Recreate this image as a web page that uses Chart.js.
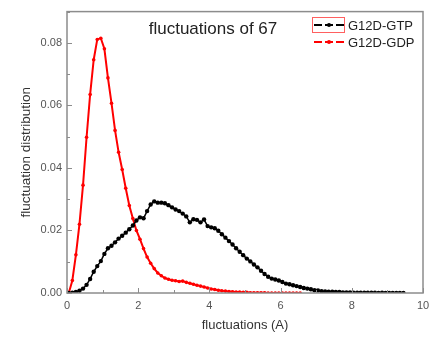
<!DOCTYPE html>
<html lang="en">
<head>
<meta charset="UTF-8">
<title>fluctuations of 67</title>
<script src="https://cdn.jsdelivr.net/npm/chart.js"></script>
<style>
  html, body { margin: 0; padding: 0; background: #fff; }
  #wrap { width: 440px; height: 338px; }
</style>
</head>
<body>
<div id="wrap"><canvas id="chart" width="440" height="338"></canvas></div>
<script>
// bin centres of the fluctuation histograms (A)
const binCenters = [
  0.05, 0.15, 0.25, 0.35, 0.45, 0.55, 0.65, 0.75, 0.85, 0.95,
  1.05, 1.15, 1.25, 1.35, 1.45, 1.55, 1.65, 1.75, 1.85, 1.95,
  2.05, 2.15, 2.25, 2.35, 2.45, 2.55, 2.65, 2.75, 2.85, 2.95,
  3.05, 3.15, 3.25, 3.35, 3.45, 3.55, 3.65, 3.75, 3.85, 3.95,
  4.05, 4.15, 4.25, 4.35, 4.45, 4.55, 4.65, 4.75, 4.85, 4.95,
  5.05, 5.15, 5.25, 5.35, 5.45, 5.55, 5.65, 5.75, 5.85, 5.95,
  6.05, 6.15, 6.25, 6.35, 6.45, 6.55, 6.65, 6.75, 6.85, 6.95,
  7.05, 7.15, 7.25, 7.35, 7.45, 7.55, 7.65, 7.75, 7.85, 7.95,
  8.05, 8.15, 8.25, 8.35, 8.45, 8.55, 8.65, 8.75, 8.85, 8.95,
  9.05, 9.15, 9.25, 9.35, 9.45
];

// G12D-GTP distribution
const gtpValues = [
  0.0000, 0.0001, 0.0003, 0.0007, 0.0014, 0.0026, 0.0045, 0.0068, 0.0086, 0.0102,
  0.0125, 0.0143, 0.0151, 0.0162, 0.0174, 0.0183, 0.0193, 0.0204, 0.0216, 0.0232,
  0.0242, 0.0239, 0.0262, 0.0283, 0.0293, 0.0289, 0.0289, 0.0287, 0.0281, 0.0274,
  0.0267, 0.0262, 0.0254, 0.0245, 0.0226, 0.0236, 0.0234, 0.0226, 0.0235, 0.0214,
  0.0210, 0.0207, 0.0199, 0.0188, 0.0177, 0.0166, 0.0155, 0.0143, 0.0132, 0.0121,
  0.0110, 0.0101, 0.0091, 0.0082, 0.0071, 0.0061, 0.0052, 0.0046, 0.0043, 0.0040,
  0.0035, 0.0030, 0.0028, 0.0025, 0.0022, 0.0019, 0.0016, 0.0014, 0.0012, 0.0009,
  0.0008, 0.0006, 0.0005, 0.0004, 0.0004, 0.0003, 0.0003, 0.0002, 0.0002, 0.0002,
  0.0001, 0.0001, 0.0001, 0.0001, 0.0001, 0.0001, 0.0001, 0.0000, 0.0001, 0.0000,
  0.0000, 0.0000, 0.0000, 0.0000, 0.0000
];

// G12D-GDP distribution (ends at 6.55)
const gdpValues = [
  0.0000, 0.0040, 0.0122, 0.0220, 0.0345, 0.0498, 0.0635, 0.0746, 0.0811, 0.0815,
  0.0781, 0.0688, 0.0607, 0.0520, 0.0450, 0.0395, 0.0335, 0.0280, 0.0238, 0.0200,
  0.0172, 0.0142, 0.0115, 0.0095, 0.0078, 0.0064, 0.0055, 0.0048, 0.0044, 0.0041,
  0.0039, 0.0037, 0.0038, 0.0034, 0.0031, 0.0028, 0.0025, 0.0022, 0.0019, 0.0016,
  0.0013, 0.0011, 0.0009, 0.0007, 0.0006, 0.0005, 0.0004, 0.0003, 0.0003, 0.0002,
  0.0002, 0.0001, 0.0001, 0.0001, 0.0001, 0.0001, 0.0000, 0.0000, 0.0000, 0.0000,
  0.0000, 0.0000, 0.0000, 0.0000, 0.0000, 0.0000
];

const seriesNames = ['G12D-GTP', 'G12D-GDP'];
const xTicks = [0, 2, 4, 6, 8, 10];
const yTicks = [0.00, 0.02, 0.04, 0.06, 0.08];

const toPoints = vals => vals.map((v, i) => ({ x: binCenters[i], y: v }));

const AXIS_GREY = '#8c8c8c';
const LABEL_GREY = '#555';
const FONT = 'Arial, "Liberation Sans", sans-serif';

// frame, inward ticks, inner title and legend
const decorations = {
  id: 'decorations',
  afterDraw(chart) {
    const { ctx, chartArea: a, scales: { x, y } } = chart;
    ctx.save();

    ctx.strokeStyle = AXIS_GREY;
    ctx.lineWidth = 1.5;
    ctx.strokeRect(a.left, a.top, a.right - a.left, a.bottom - a.top);

    // major and minor ticks pointing into the plot
    ctx.lineWidth = 1;
    for (let v = 0; v <= 10; v += 1) {
      const px = Math.round(x.getPixelForValue(v)) + 0.5;
      const len = v % 2 === 0 ? 5 : 3;
      ctx.beginPath();
      ctx.moveTo(px, a.bottom);
      ctx.lineTo(px, a.bottom - len);
      ctx.stroke();
    }
    for (let k = 0; k <= 9; k++) {
      const py = Math.round(y.getPixelForValue(k * 0.01)) + 0.5;
      const len = k % 2 === 0 ? 5 : 3;
      ctx.beginPath();
      ctx.moveTo(a.left, py);
      ctx.lineTo(a.left + len, py);
      ctx.stroke();
    }

    ctx.fillStyle = '#222';
    ctx.font = '17px ' + FONT;
    ctx.textAlign = 'center';
    ctx.textBaseline = 'middle';
    ctx.fillText('fluctuations of 67', 213, 29);

    // legend
    const items = chart.data.datasets;
    const lx = 314, lw = 30;
    ctx.font = '13px ' + FONT;
    ctx.textAlign = 'left';
    items.forEach((ds, i) => {
      const ly = 25 + i * 17;
      ctx.strokeStyle = ds.borderColor;
      ctx.lineWidth = 2;
      ctx.setLineDash([8, 3]);
      ctx.beginPath();
      ctx.moveTo(lx, ly);
      ctx.lineTo(lx + lw, ly);
      ctx.stroke();
      ctx.setLineDash([]);
      ctx.fillStyle = ds.pointBackgroundColor;
      ctx.beginPath();
      ctx.arc(lx + lw / 2, ly, 2, 0, Math.PI * 2);
      ctx.fill();
      ctx.fillStyle = '#222';
      ctx.fillText(ds.label, lx + lw + 4, ly + 1);
    });
    ctx.strokeStyle = '#ff6060';
    ctx.lineWidth = 1;
    ctx.strokeRect(312.5, 17.5, 32, 15);

    ctx.restore();
  }
};

new Chart(document.getElementById('chart'), {
  type: 'line',
  data: {
    datasets: [
      {
        label: seriesNames[0],
        data: toPoints(gtpValues),
        borderColor: '#000',
        backgroundColor: '#000',
        pointBackgroundColor: '#000',
        pointBorderColor: '#000',
        borderWidth: 1.5,
        pointRadius: 2.2,
        pointBorderWidth: 0,
        tension: 0
      },
      {
        label: seriesNames[1],
        data: toPoints(gdpValues),
        borderColor: '#ff0000',
        backgroundColor: '#ff0000',
        pointBackgroundColor: '#ff0000',
        pointBorderColor: '#ff0000',
        borderWidth: 2,
        pointRadius: 1.8,
        pointBorderWidth: 0,
        tension: 0
      }
    ]
  },
  options: {
    responsive: false,
    animation: false,
    layout: { padding: { left: 0, top: 6, right: 17, bottom: 0 } },
    plugins: {
      legend: { display: false },
      tooltip: { enabled: false }
    },
    scales: {
      x: {
        type: 'linear',
        min: 0,
        max: 10,
        afterFit: s => { s.height = 45; },
        afterBuildTicks: s => { s.ticks = xTicks.map(v => ({ value: v })); },
        grid: { display: false, drawTicks: false },
        border: { display: false },
        ticks: { color: LABEL_GREY, font: { family: FONT, size: 11 }, padding: 6 },
        title: {
          display: true,
          text: 'fluctuations (A)',
          color: '#333',
          font: { family: FONT, size: 13 },
          padding: { bottom: 5 }
        }
      },
      y: {
        min: 0,
        max: 0.09,
        afterFit: s => { s.width = 67; },
        afterBuildTicks: s => { s.ticks = yTicks.map(v => ({ value: v })); },
        grid: { display: false, drawTicks: false },
        border: { display: false },
        ticks: {
          color: LABEL_GREY,
          font: { family: FONT, size: 11 },
          padding: 5,
          callback: v => v.toFixed(2)
        },
        title: {
          display: true,
          text: 'fluctuation distribution',
          color: '#333',
          font: { family: FONT, size: 13.5 },
          padding: { top: 18 }
        }
      }
    }
  },
  plugins: [decorations]
});
</script>
</body>
</html>
